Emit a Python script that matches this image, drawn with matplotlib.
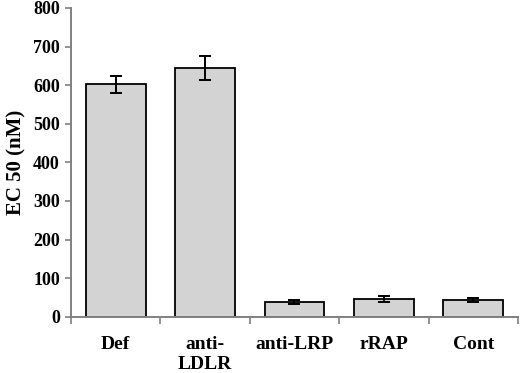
import matplotlib.pyplot as plt
import numpy as np

categories = ['Def', 'anti-\nLDLR', 'anti-LRP', 'rRAP', 'Cont']
ec50 = [602, 645, 38, 46, 43]
err = [23, 31, 5, 7, 6]

plt.rcParams['font.family'] = 'Liberation Serif'
plt.rcParams['font.weight'] = 'bold'

fig = plt.figure(figsize=(5.2, 3.73), dpi=100)
ax = fig.add_axes([0.1365, 0.151, 0.8595, 0.8276])

x = np.arange(len(categories))
ax.bar(x, ec50, width=0.67, color='#d3d3d3', edgecolor='black', linewidth=1.3,
       yerr=err, capsize=4.5, error_kw={'elinewidth': 1.4, 'capthick': 1.4})

ax.set_xlim(-0.5, len(categories) - 0.5)
ax.set_ylim(0, 800)
ax.set_yticks(range(0, 801, 100))
ax.set_xticks(np.arange(-0.5, len(categories), 1))
ax.set_xticklabels([])
ax.set_xticks(x, minor=True)
ax.set_xticklabels(categories, minor=True, fontsize=14, fontweight='bold')
ax.tick_params(axis='x', which='minor', length=0, pad=14)
ax.tick_params(axis='x', which='major', length=5, color='#808080', width=1.2)
ax.tick_params(axis='y', length=4, color='#808080', width=1.2, labelsize=13, pad=4)
for lab in ax.get_yticklabels():
    lab.set_fontweight('bold')

ax.spines['top'].set_visible(False)
ax.spines['right'].set_visible(False)
for s in ('left', 'bottom'):
    ax.spines[s].set_color('#808080')
    ax.spines[s].set_linewidth(1.4)

ax.set_ylabel('EC 50 (nM)', fontsize=15, fontweight='bold', labelpad=5)

fig.savefig('out.png', dpi=100)
